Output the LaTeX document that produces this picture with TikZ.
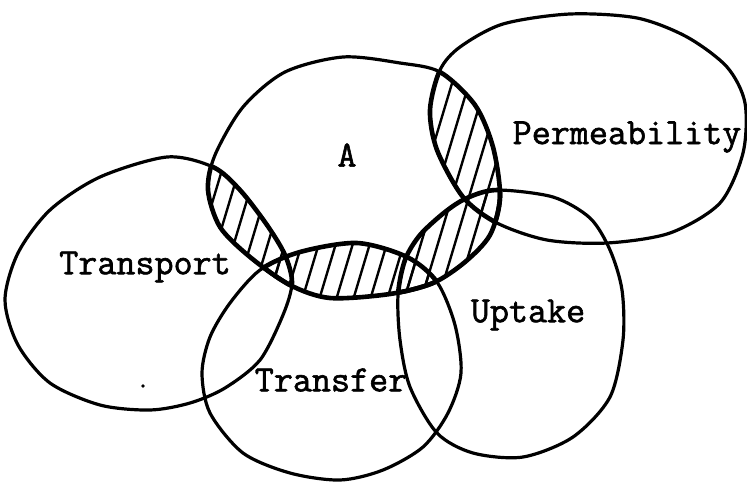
\documentclass[tikz,border=0pt]{standalone}
\usepackage{fontspec}
\newfontfamily\typer[FakeBold=1.6]{Latin Modern Mono}
\begin{document}
\begin{tikzpicture}[x=1pt,y=-1pt,
  ring/.style={line width=3.2pt, line join=round},
  rim/.style={line width=4.6pt, line join=round},
  hatch/.style={line width=2.4pt, line cap=round},
  word/.style={font=\typer\bfseries\fontsize{37}{37}\selectfont, inner sep=0pt}]
\useasboundingbox (0,0) rectangle (747,483);

% hand-drawn outlines of the five sets
\def\setA{plot[smooth cycle] coordinates {(343,57) (400,63) (440,72) (475,105) (493,147) (500,197) (490,235) (465,262) (433,283) (390,294) (330,298) (290,285) (250,257) (220,227) (208,190) (215,155) (243,107) (285,72)}}
\def\setP{plot[smooth cycle] coordinates {(570,14) (637,18) (687,37) (727,67) (745,103) (743,153) (720,203) (670,233) (607,243) (547,240) (497,223) (463,197) (437,150) (430,110) (440,70) (460,47) (503,24)}}
\def\setT{plot[smooth cycle] coordinates {(167,157) (213,167) (240,190) (267,225) (285,255) (292,283) (283,315) (260,360) (225,388) (190,403) (150,410) (100,405) (50,383) (18,345) (5,300) (18,253) (50,210) (100,177)}}
\def\setF{plot[smooth cycle] coordinates {(357,243) (407,257) (437,282) (455,325) (461,373) (448,413) (423,447) (383,470) (340,480) (290,473) (243,453) (210,413) (202,373) (210,337) (230,303) (260,270) (300,252)}}
\def\setU{plot[smooth cycle] coordinates {(497,190) (553,197) (590,218) (610,250) (622,290) (623,340) (610,397) (573,437) (523,457) (473,453) (437,433) (410,387) (400,340) (398,295) (405,260) (420,235) (445,212) (467,198)}}

% hatching of the overlaps of A with each other set, with heavier rims
\foreach \other in {\setP,\setT,\setF,\setU}{
  \begin{scope}
    \clip \setA;
    \clip \other;
    \foreach \x in {-200,-183,...,760}
      \draw[hatch] (\x,500) -- ++(150,-500);
  \end{scope}
  \begin{scope}
    \clip \other;
    \draw[rim] \setA;
  \end{scope}
  \begin{scope}
    \clip \setA;
    \draw[rim] \other;
  \end{scope}
}

% outlines
\draw[ring] \setA;
\draw[ring] \setP;
\draw[ring] \setT;
\draw[ring] \setF;
\draw[ring] \setU;

% labels
\node[word] (la) at (347,155) {A};
\node[word] (lp) at (627,137) {Permeability};
\node[word] (lt) at (145,267) {Transport};
\node[word] (lf) at (331,380) {Transfer};
\node[word] (lu) at (528,315) {Uptake};

\fill (143,386) circle (1.8);
\end{tikzpicture}
\end{document}
